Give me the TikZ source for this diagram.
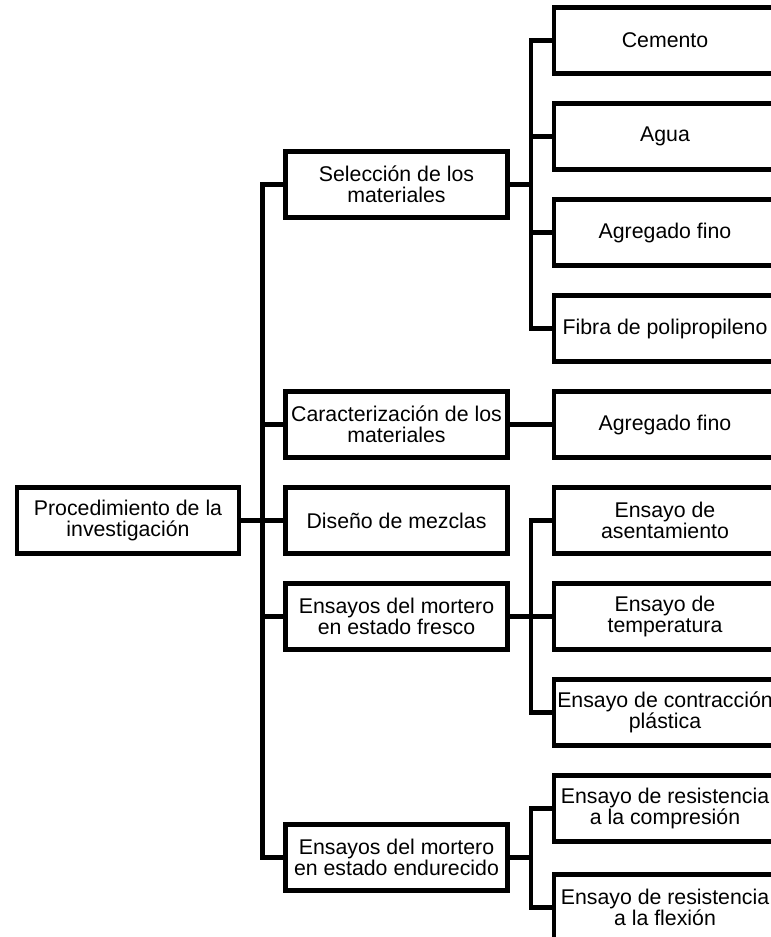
\documentclass[tikz,border=0pt]{standalone}
\usepackage{fontspec}
\setmainfont{Liberation Sans}
\usepackage{tikz}

\begin{document}
\begin{tikzpicture}[x=1pt, y=-1pt, line width=4.5pt,
	every node/.style={font=\fontsize{21.3}{20.7}\selectfont},
	caja/.style={draw, minimum width=222pt, minimum height=66pt, inner sep=0pt, align=center}]
	\clip (0,0) rectangle (771,937);
	\node[caja] (proc) at (128,520.5) {Procedimiento de la\\investigación};
	\node[caja] (sel) at (396.5,184.5) {Selección de los\\materiales};
	\node[caja] (car) at (396.5,424.5) {Caracterización de los\\materiales};
	\node[caja] (dis) at (396.5,520.5) {Diseño de mezclas};
	\node[caja] (fre) at (396.5,616.5) {Ensayos del mortero\\en estado fresco};
	\node[caja] (endu) at (396.5,857.5) {Ensayos del mortero\\en estado endurecido};
	\node[caja] (cem) at (665,40.5) {Cemento};
	\node[caja] (agu) at (665,136.5) {Agua};
	\node[caja] (agr) at (665,232.5) {Agregado fino};
	\node[caja] (fib) at (665,328.5) {Fibra de polipropileno};
	\node[caja] (agrb) at (665,424.5) {Agregado fino};
	\node[caja] (ase) at (665,520.5) {Ensayo de\\asentamiento};
	\node[caja] (tem) at (665,616.5) {Ensayo de\\temperatura};
	\node[caja] (con) at (665,712.5) {Ensayo de contracción\\plástica};
	\node[caja] (com) at (665,808.5) {Ensayo de resistencia\\a la compresión};
	\node[caja] (fle) at (665,907.5) {Ensayo de resistencia\\a la flexión};
	\coordinate (tronco) at (262.5,0);
	\coordinate (rama) at (531,0);
	% tronco principal
	\draw (sel.west) -| (tronco |- endu.west) -- (endu.west);
	\draw (proc.east) -- (dis.west);
	\draw (car.west) -- (tronco |- car.west);
	\draw (fre.west) -- (tronco |- fre.west);
	% ramas
	\draw (cem.west) -| (rama |- fib.west) -- (fib.west);
	\draw (sel.east) -- (rama |- sel.east);
	\draw (agu.west) -- (rama |- agu.west);
	\draw (agr.west) -- (rama |- agr.west);
	\draw (car.east) -- (agrb.west);
	\draw (ase.west) -| (rama |- con.west) -- (con.west);
	\draw (fre.east) -- (rama |- fre.east);
	\draw (tem.west) -- (rama |- tem.west);
	\draw (com.west) -| (rama |- fle.west) -- (fle.west);
	\draw (endu.east) -- (rama |- endu.east);
\end{tikzpicture}
\end{document}
